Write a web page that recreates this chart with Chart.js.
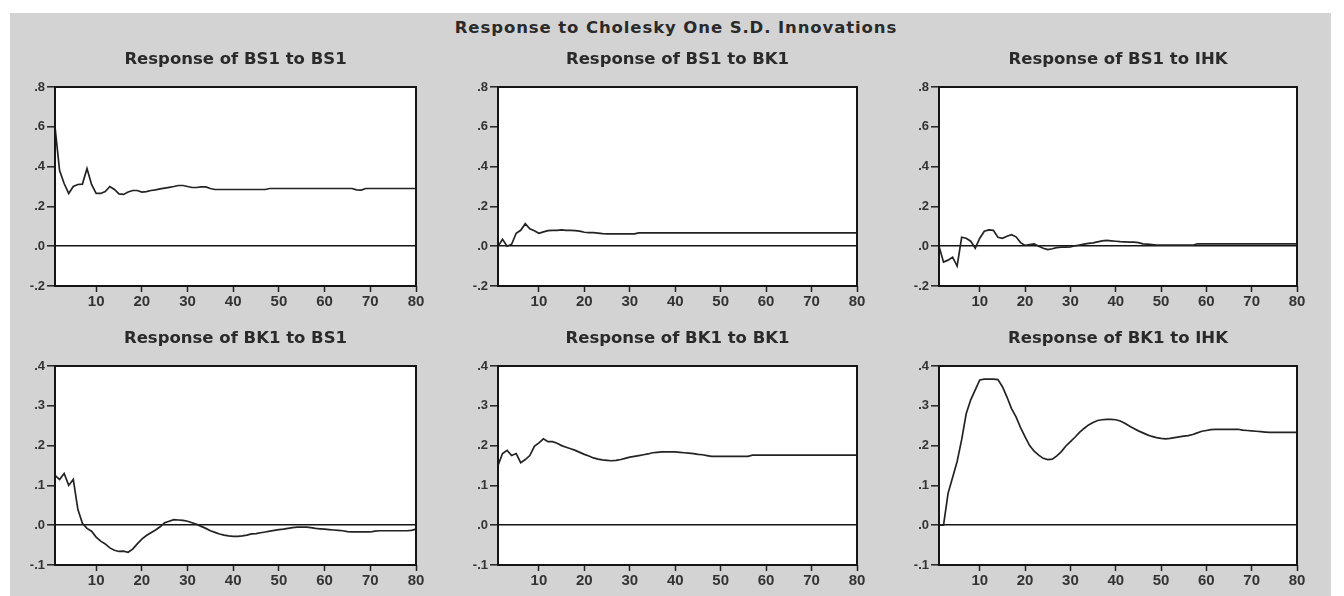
<!DOCTYPE html>
<html>
<head>
<meta charset="utf-8">
<script src="https://cdn.jsdelivr.net/npm/chart.js@4.4.1/dist/chart.umd.min.js"></script>
<style>
  body { margin: 0; background: #fff; width: 1344px; height: 596px; overflow: hidden; position: relative; }
  #bg { position: absolute; left: 10px; top: 13px; width: 1321px; height: 583px; background: #d3d3d3; }
  #main { position: absolute; left: 0; width: 1352px; top: 18px; text-align: center;
          font: bold 16.5px "DejaVu Sans"; letter-spacing: 0.9px; color: #2a2a2a; }
  canvas { position: absolute; }
</style>
</head>
<body>
<div id="bg"></div>
<div id="main">Response to Cholesky One S.D. Innovations</div>
<canvas id="c1"></canvas>
<canvas id="c2"></canvas>
<canvas id="c3"></canvas>
<canvas id="c4"></canvas>
<canvas id="c5"></canvas>
<canvas id="c6"></canvas>
<script>
// periods 1..80
const periods = Array.from({ length: 80 }, (_, i) => i + 1);
const xTicks = [10, 20, 30, 40, 50, 60, 70, 80];
const yTicksTop = [-0.2, 0, 0.2, 0.4, 0.6, 0.8];
const yTicksBottom = [-0.1, 0, 0.1, 0.2, 0.3, 0.4];

const titles = [
  'Response of BS1 to BS1', 'Response of BS1 to BK1', 'Response of BS1 to IHK',
  'Response of BK1 to BS1', 'Response of BK1 to BK1', 'Response of BK1 to IHK'
];

const bs1ToBs1 = [
  0.60, 0.38, 0.315, 0.265, 0.30, 0.31, 0.312, 0.39, 0.31, 0.265,
  0.265, 0.275, 0.30, 0.285, 0.263, 0.26, 0.272, 0.28, 0.28, 0.272,
  0.274, 0.28, 0.283, 0.288, 0.292, 0.296, 0.30, 0.305, 0.305, 0.30,
  0.295, 0.295, 0.298, 0.298, 0.29, 0.285, 0.285, 0.285, 0.285, 0.285,
  0.285, 0.285, 0.285, 0.285, 0.285, 0.285, 0.285, 0.29, 0.29, 0.29,
  0.29, 0.29, 0.29, 0.29, 0.29, 0.29, 0.29, 0.29, 0.29, 0.29,
  0.29, 0.29, 0.29, 0.29, 0.29, 0.29, 0.283, 0.282, 0.29, 0.29,
  0.29, 0.29, 0.29, 0.29, 0.29, 0.29, 0.29, 0.29, 0.29, 0.29
];

const bs1ToBk1 = [
  0.0, 0.035, 0.0, 0.01, 0.065, 0.08, 0.113, 0.087, 0.078, 0.065,
  0.072, 0.078, 0.08, 0.08, 0.082, 0.08, 0.08, 0.078, 0.076, 0.07,
  0.068, 0.068, 0.066, 0.063, 0.062, 0.062, 0.062, 0.062, 0.062, 0.062,
  0.062, 0.067, 0.067, 0.067, 0.067, 0.067, 0.067, 0.067, 0.067, 0.067,
  0.067, 0.067, 0.067, 0.067, 0.067, 0.067, 0.067, 0.067, 0.067, 0.067,
  0.067, 0.067, 0.067, 0.067, 0.067, 0.067, 0.067, 0.067, 0.067, 0.067,
  0.067, 0.067, 0.067, 0.067, 0.067, 0.067, 0.067, 0.067, 0.067, 0.067,
  0.067, 0.067, 0.067, 0.067, 0.067, 0.067, 0.067, 0.067, 0.067, 0.067
];

const bs1ToIhk = [
  0.0, -0.08, -0.07, -0.055, -0.10, 0.045, 0.04, 0.025, -0.01, 0.04,
  0.075, 0.082, 0.08, 0.045, 0.04, 0.05, 0.058, 0.047, 0.018, 0.004,
  0.008, 0.012, 0.0, -0.01, -0.017, -0.013, -0.007, -0.005, -0.005, -0.004,
  0.002, 0.006, 0.01, 0.014, 0.017, 0.022, 0.027, 0.029, 0.027, 0.025,
  0.023, 0.022, 0.02, 0.02, 0.018, 0.012, 0.01, 0.008, 0.006, 0.005,
  0.005, 0.005, 0.005, 0.005, 0.005, 0.005, 0.005, 0.012, 0.012, 0.012,
  0.012, 0.012, 0.012, 0.012, 0.012, 0.012, 0.012, 0.012, 0.012, 0.012,
  0.012, 0.012, 0.012, 0.012, 0.012, 0.012, 0.012, 0.012, 0.012, 0.012
];

const bk1ToBs1 = [
  0.125, 0.115, 0.13, 0.10, 0.115, 0.04, 0.005, -0.008, -0.015, -0.03,
  -0.04, -0.047, -0.057, -0.063, -0.066, -0.065, -0.068, -0.06, -0.047, -0.035,
  -0.026, -0.019, -0.012, -0.004, 0.006, 0.01, 0.014, 0.013, 0.012, 0.01,
  0.006, 0.002, -0.003, -0.008, -0.014, -0.018, -0.022, -0.025, -0.027, -0.028,
  -0.028, -0.027, -0.025, -0.022, -0.021, -0.019, -0.017, -0.015, -0.013, -0.011,
  -0.01, -0.008, -0.006, -0.005, -0.005, -0.005, -0.006, -0.008, -0.009, -0.01,
  -0.011, -0.012, -0.013, -0.014, -0.016, -0.017, -0.017, -0.017, -0.017, -0.017,
  -0.015, -0.014, -0.014, -0.014, -0.014, -0.014, -0.014, -0.014, -0.013, -0.01
];

const bk1ToBk1 = [
  0.15, 0.18, 0.188, 0.175, 0.18, 0.157, 0.165, 0.175, 0.198, 0.207,
  0.217, 0.21, 0.21, 0.206, 0.20, 0.196, 0.192, 0.188, 0.183, 0.178,
  0.174, 0.169, 0.166, 0.164, 0.163, 0.162, 0.163, 0.165, 0.168, 0.171,
  0.173, 0.175, 0.177, 0.179, 0.182, 0.183, 0.184, 0.184, 0.184, 0.184,
  0.183, 0.182, 0.181, 0.18, 0.178, 0.177, 0.175, 0.173, 0.173, 0.173,
  0.173, 0.173, 0.173, 0.173, 0.173, 0.173, 0.176, 0.176, 0.176, 0.176,
  0.176, 0.176, 0.176, 0.176, 0.176, 0.176, 0.176, 0.176, 0.176, 0.176,
  0.176, 0.176, 0.176, 0.176, 0.176, 0.176, 0.176, 0.176, 0.176, 0.176
];

const bk1ToIhk = [
  0.0, 0.0, 0.08, 0.12, 0.16, 0.215, 0.28, 0.315, 0.34, 0.365,
  0.367, 0.367, 0.367, 0.366, 0.348, 0.322, 0.293, 0.272, 0.245, 0.222,
  0.20, 0.186, 0.176, 0.168, 0.165, 0.166, 0.174, 0.185, 0.199, 0.21,
  0.221, 0.233, 0.243, 0.252, 0.258, 0.263, 0.265, 0.266, 0.266, 0.265,
  0.262, 0.256, 0.249, 0.243, 0.237, 0.232, 0.227, 0.223, 0.22, 0.218,
  0.217, 0.218, 0.22, 0.222, 0.224, 0.225, 0.228, 0.232, 0.236, 0.238,
  0.24, 0.241, 0.241, 0.241, 0.241, 0.241, 0.241, 0.239, 0.238, 0.237,
  0.236, 0.235, 0.234, 0.233, 0.233, 0.233, 0.233, 0.233, 0.233, 0.233
];

const series = [bs1ToBs1, bs1ToBk1, bs1ToIhk, bk1ToBs1, bk1ToBk1, bk1ToIhk];

// plot boxes of the six panels (left, right, top, bottom)
const boxes = [
  { L: 55, R: 416, T: 87, B: 286 },
  { L: 498, R: 857, T: 87, B: 286 },
  { L: 939, R: 1297, T: 87, B: 286 },
  { L: 55, R: 416, T: 366, B: 565 },
  { L: 498, R: 857, T: 366, B: 565 },
  { L: 939, R: 1297, T: 366, B: 565 }
];

const AXIS_W = 45, TITLE_H = 37, XAXIS_H = 28;

const frame = {
  id: 'frame',
  beforeDraw(chart) {
    const { ctx, chartArea: a } = chart;
    ctx.save();
    ctx.fillStyle = '#fff';
    ctx.fillRect(a.left, a.top, a.right - a.left, a.bottom - a.top);
    ctx.restore();
  },
  afterDraw(chart) {
    const { ctx, chartArea: a } = chart;
    ctx.save();
    ctx.strokeStyle = '#151515';
    ctx.lineWidth = 2;
    ctx.strokeRect(a.left, a.top, a.right - a.left, a.bottom - a.top);
    ctx.restore();
  }
};

function fmt(v) {
  return v.toFixed(1).replace('0.', '.');
}

function makePanel(i) {
  const box = boxes[i];
  const yTicks = i < 3 ? yTicksTop : yTicksBottom;
  const cv = document.getElementById('c' + (i + 1));
  cv.width = box.R - box.L + 2 * AXIS_W;
  cv.height = box.B - box.T + TITLE_H + XAXIS_H;
  cv.style.left = (box.L - AXIS_W) + 'px';
  cv.style.top = (box.T - TITLE_H) + 'px';

  new Chart(cv, {
    type: 'line',
    data: {
      datasets: [{
        data: periods.map((t, k) => ({ x: t, y: series[i][k] })),
        borderColor: '#232323',
        borderWidth: 1.7,
        pointRadius: 0,
        tension: 0,
        fill: false
      }]
    },
    options: {
      responsive: false,
      animation: false,
      plugins: {
        legend: { display: false },
        tooltip: { enabled: false },
        title: {
          display: true,
          text: titles[i],
          color: '#2a2a2a',
          font: { family: 'DejaVu Sans', size: 16.5, weight: 'bold', lineHeight: 1.2 },
          padding: { top: 0, bottom: TITLE_H - 19.8 }
        }
      },
      scales: {
        x: {
          type: 'linear',
          min: 1,
          max: 80,
          afterBuildTicks: s => { s.ticks = xTicks.map(v => ({ value: v })); },
          afterFit: s => { s.height = XAXIS_H; },
          border: { display: false },
          grid: { drawOnChartArea: false, tickLength: 6, tickColor: '#222', tickWidth: 1.5 },
          ticks: {
            color: '#333', padding: 1, maxRotation: 0,
            font: { family: 'Liberation Sans', size: 15, weight: 'bold' }
          }
        },
        y: {
          min: yTicks[0],
          max: yTicks[yTicks.length - 1],
          afterBuildTicks: s => { s.ticks = yTicks.map(v => ({ value: v })); },
          afterFit: s => { s.width = AXIS_W; },
          border: { display: false },
          grid: {
            color: c => (c.tick && Math.abs(c.tick.value) < 1e-9) ? '#151515' : 'rgba(0,0,0,0)',
            lineWidth: 1.6,
            tickLength: 8,
            tickColor: '#222',
            tickWidth: 1.5
          },
          ticks: {
            color: '#333', padding: 2,
            font: { family: 'Liberation Sans', size: 13, weight: 'bold' },
            callback: v => fmt(v)
          }
        },
        // empty right-hand axis, only to keep the panel symmetric under its title
        yRight: {
          position: 'right',
          display: true,
          afterFit: s => { s.width = AXIS_W; },
          border: { display: false },
          grid: { display: false },
          ticks: { display: false }
        }
      }
    },
    plugins: [frame]
  });
}

for (let i = 0; i < 6; i++) makePanel(i);
</script>
</body>
</html>
